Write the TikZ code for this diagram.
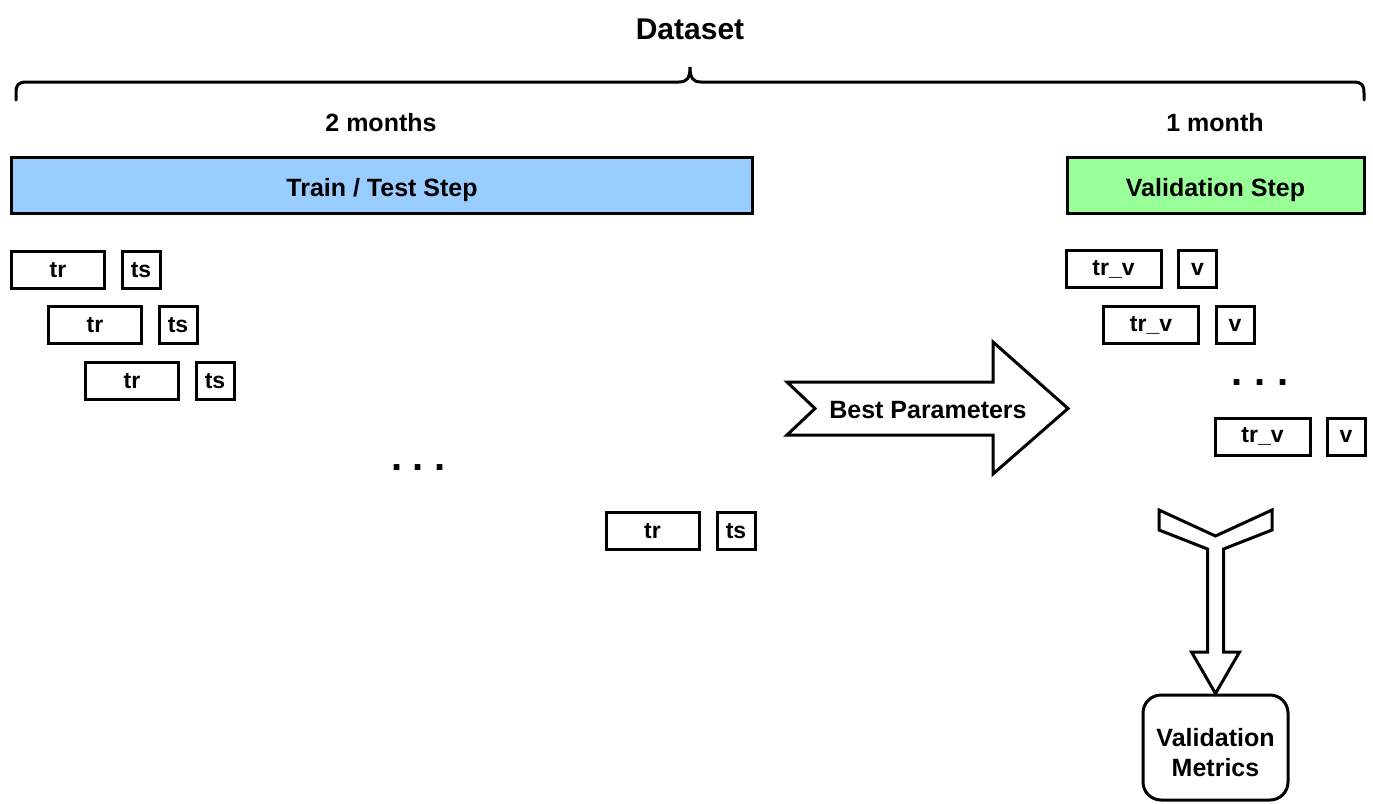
\documentclass[tikz,border=0pt]{standalone}
\usepackage{fontspec}
\setmainfont{Liberation Sans}
\begin{document}
\begin{tikzpicture}[x=1pt,y=-1pt,
  lbl/.style={font=\fontsize{25}{30}\selectfont\bfseries},
  bar/.style={draw, line width=3pt, inner sep=0pt, minimum height=56pt, text height=22pt, text depth=0pt, font=\fontsize{25}{30}\selectfont\bfseries},
  cell/.style={draw, line width=3pt, inner sep=0pt, minimum height=37pt, font=\fontsize{23}{28}\selectfont\bfseries},
  trbox/.style={cell, minimum width=93pt},
  tsbox/.style={cell, minimum width=38pt},
  dots/.style={anchor=base, inner sep=0pt, font=\fontsize{40}{40}\selectfont\bfseries},
  fat/.style={draw, line width=3pt, line join=miter, fill=white}
]
\definecolor{trainblue}{RGB}{153,204,255}
\definecolor{validgreen}{RGB}{153,255,153}
\useasboundingbox (0,0) rectangle (1373,803);

% title and brace
\node[font=\fontsize{30}{36}\selectfont\bfseries] (dataset) at (690,29) {Dataset};
\draw[line width=3pt, line cap=round]
  (16,100) -- (16,93) .. controls (16,85) and (18,82) .. (27,82)
  -- (679,82) .. controls (687,82) and (690,78) .. (690,67)
  .. controls (690,78) and (693,82) .. (701,82)
  -- (1353,82) .. controls (1362,82) and (1364,85) .. (1364,93) -- (1364,100);

% period labels
\node[lbl] (twomonths) at (381,123) {2 months};
\node[lbl] (onemonth) at (1215,123) {1 month};

% bars
\node[bar, fill=trainblue, minimum width=741pt] (train) at (382,185.5) {Train / Test Step};
\node[bar, fill=validgreen, minimum width=297pt] (valid) at (1215.5,185.5) {Validation Step};

% train/test folds
\node[trbox] (tr1) at (58,270) {tr};
\node[tsbox] (ts1) at (141,270) {ts};
\node[trbox] (tr2) at (95,325) {tr};
\node[tsbox] (ts2) at (178,325) {ts};
\node[trbox] (tr3) at (132,381) {tr};
\node[tsbox] (ts3) at (215,381) {ts};
\node[dots] (ldots) at (418.3,470) {.\hspace{10.6pt}.\hspace{10.6pt}.};
\node[trbox] (tr4) at (652.5,531) {tr};
\node[tsbox] (ts4) at (736,531) {ts};

% validation folds
\node[trbox, minimum width=95pt] (trv1) at (1113.5,269) {tr\_v};
\node[tsbox] (v1) at (1197.5,269) {v};
\node[trbox, minimum width=95pt] (trv2) at (1151,325) {tr\_v};
\node[tsbox] (v2) at (1235,325) {v};
\node[dots] (rdots) at (1260,385) {.\hspace{12.2pt}.\hspace{12.2pt}.};
\node[trbox, minimum width=95pt] (trv3) at (1262.5,436.5) {tr\_v};
\node[tsbox] (v3) at (1346,436.5) {v};

% best parameters arrow
\draw[fat] (787,382) -- (993,382) -- (993,342) -- (1068,408.5) -- (993,474)
  -- (993,435) -- (787,435) -- (815,408.5) -- cycle;
\node[lbl] (best) at (928,410.5) {Best Parameters};

% validation metrics
\node[draw, line width=3pt, rounded corners=18pt, minimum width=145pt, minimum height=105pt,
  inner sep=0pt] (metrics) at (1215.5,747.5) {};
\node[align=center, font=\fontsize{25}{30}\selectfont\bfseries] (metricslbl)
  at ([yshift=-5.5pt]metrics.center) {Validation\\Metrics};

% merging arrow
\draw[fat] (1159,510) -- (1215.5,536) -- (1272,510) -- (1272,530) -- (1223.5,549)
  -- (1223.5,652) -- (1239.5,652) -- (metrics.north) -- (1191.5,652) -- (1207.5,652)
  -- (1207.5,549) -- (1159,530) -- cycle;
\end{tikzpicture}
\end{document}
